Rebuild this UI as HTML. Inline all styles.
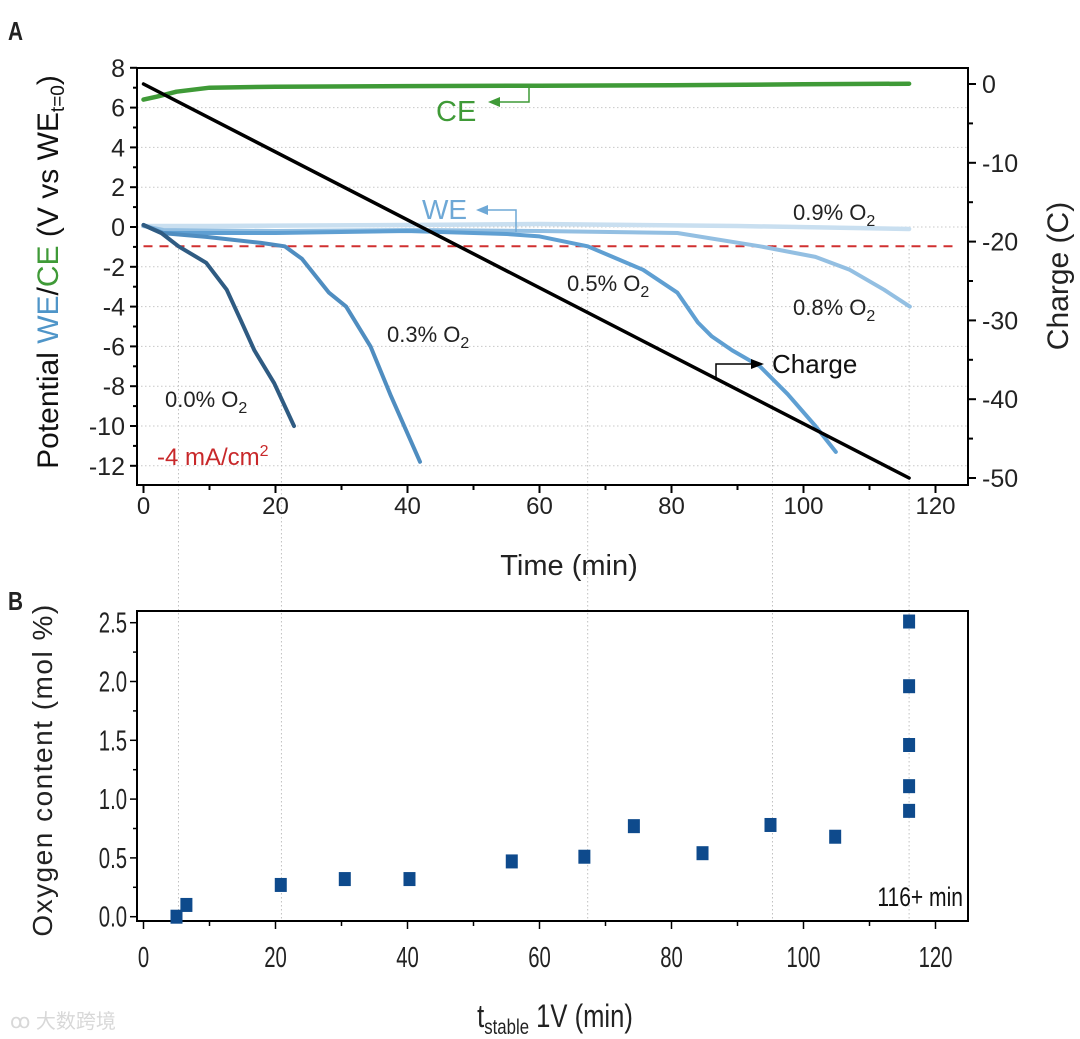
<!DOCTYPE html>
<html><head><meta charset="utf-8">
<style>
body{margin:0;background:#fff;}
svg{display:block;font-family:"Liberation Sans",sans-serif;}
</style></head>
<body>
<svg id="fig" width="1080" height="1039" viewBox="0 0 1080 1039" xmlns="http://www.w3.org/2000/svg"></svg>
<script>
// ---- Panel A data ----
const timeTicks = [0,20,40,60,80,100,120];
const potTicks = [8,6,4,2,0,-2,-4,-6,-8,-10,-12];
const chargeTicks = [0,-10,-20,-30,-40,-50];
const ceT = [0,2,5,10,20,40,60,80,100,116];
const ceV = [6.4,6.55,6.8,7.0,7.05,7.08,7.1,7.12,7.17,7.2];
const chargeT = [0,116];
const chargeC = [0,-50];
const we00T = [0,2.7,5.3,9.5,12.6,14.7,16.8,19.8,22.8];
const we00V = [0.1,-0.3,-0.97,-1.8,-3.15,-4.66,-6.2,-7.85,-10.0];
const we03T = [0,2.7,9.5,17.8,21.4,24,28.1,30.7,34.4,37.5,41.9];
const we03V = [0.1,-0.3,-0.5,-0.8,-0.97,-1.6,-3.3,-4.0,-6.0,-8.5,-11.8];
const we05T = [0,3,20,40,55,60,67.3,75.7,80.9,84,86.1,89.2,93.4,97.6,101.8,104.9];
const we05V = [0.1,-0.3,-0.3,-0.2,-0.35,-0.47,-0.97,-2.15,-3.3,-4.8,-5.5,-6.2,-7.0,-8.4,-10.0,-11.3];
const we08T = [0,3,20,40,60,80.9,93.4,101.8,107,112.2,116.1];
const we08V = [0.05,-0.15,-0.2,-0.15,-0.2,-0.3,-0.97,-1.5,-2.15,-3.15,-4.0];
const we09T = [0,10,40,60,90,116];
const we09V = [0.05,0.05,0.1,0.15,0.05,-0.1];
const cutoffV = -0.97;
const markerTimes = [5.3,20.9,67.3,95.3,116];
// ---- Panel B data ----
const bT = [5,6.5,20.8,30.5,40.3,55.8,66.8,74.3,84.7,95,104.8,116,116,116,116,116];
const bO = [0.0,0.1,0.27,0.32,0.32,0.47,0.51,0.77,0.54,0.78,0.68,0.9,1.11,1.46,1.96,2.51];
const oTicks = [0.0,0.5,1.0,1.5,2.0,2.5];
const bTimeTicks = [0,20,40,60,80,100,120];

const NS="http://www.w3.org/2000/svg";
const svg=document.getElementById('fig');
function el(tag,attrs,parent){const e=document.createElementNS(NS,tag);for(const k in attrs)e.setAttribute(k,attrs[k]);(parent||svg).appendChild(e);return e;}
const xT = t => 143.5 + t*6.6;
const yP = v => 227 - v*19.9;
const yC = c => 84 - c*7.88;
const yO = o => 916.7 - o*117.6;
const L=137,R=968,AT=68,AB=485,BT=611,BB=921;

potTicks.forEach(v=>{ if(v===8) return;
  const g=el('line',{x1:L,x2:R,y1:yP(v),y2:yP(v),stroke:'#c8c8c8','stroke-width':1,'stroke-dasharray':'1.5,2.5'});
  
  
});
markerTimes.forEach(t=>{
  const g=el('line',{x1:xT(t),x2:xT(t),y1:245,y2:BB,stroke:'#c0c0c0','stroke-width':1,'stroke-dasharray':'1.5,2.5'});
  
  
});
const cut=el('line',{x1:xT(0),x2:958,y1:yP(cutoffV),y2:yP(cutoffV),stroke:'#d03030','stroke-width':2,'stroke-dasharray':'9,7'});



function poly(ts,vs,ymap,color,w,name){
  const pts=ts.map((t,i)=>xT(t).toFixed(1)+','+ymap(vs[i]).toFixed(1)).join(' ');
  const p=el('polyline',{points:pts,fill:'none',stroke:color,'stroke-width':w,'stroke-linejoin':'round','stroke-linecap':'round'});
  
  
}
poly(we09T,we09V,yP,'#c9dff0',4.5,'we-0.9-line');
poly(we08T,we08V,yP,'#93bfe2',4,'we-0.8-line');
poly(we05T,we05V,yP,'#5f9fd2',4,'we-0.5-line');
poly(we03T,we03V,yP,'#4f8dc0',4,'we-0.3-line');
poly(we00T,we00V,yP,'#2f5b82',4,'we-0.0-line');
poly(ceT,ceV,yP,'#3f9a37',4.5,'ce-line');
poly(chargeT,chargeC,yC,'#000',3.5,'charge-line');

const boxA=el('rect',{x:L,y:AT,width:R-L,height:AB-AT,fill:'none',stroke:'#000','stroke-width':2});


timeTicks.forEach(t=>{
  el('line',{x1:xT(t),x2:xT(t),y1:AB,y2:AB+8,stroke:'#000','stroke-width':2});
  if(t<120) el('line',{x1:xT(t+10),x2:xT(t+10),y1:AB,y2:AB+5,stroke:'#000','stroke-width':2});
  const tx=el('text',{x:xT(t),y:AB+29,'font-size':24,'text-anchor':'middle',fill:'#222'});
  tx.textContent=t;
  
  
});
potTicks.forEach(v=>{
  el('line',{x1:L-7,x2:L,y1:yP(v),y2:yP(v),stroke:'#000','stroke-width':2});
  if(v>-12) el('line',{x1:L-4,x2:L,y1:yP(v-1),y2:yP(v-1),stroke:'#000','stroke-width':2});
  const tx=el('text',{x:L-12,y:yP(v)+9,'font-size':25,'text-anchor':'end',fill:'#222'});
  tx.textContent=v;
  
  
});
chargeTicks.forEach(c=>{
  el('line',{x1:R,x2:R+8,y1:yC(c),y2:yC(c),stroke:'#000','stroke-width':2});
  if(c>-50) el('line',{x1:R,x2:R+5,y1:yC(c-5),y2:yC(c-5),stroke:'#000','stroke-width':2});
  const tx=el('text',{x:R+14,y:yC(c)+9,'font-size':25,fill:'#222'});
  tx.textContent=c;
  
  
});

const boxB=el('rect',{x:L,y:BT,width:R-L,height:BB-BT,fill:'none',stroke:'#000','stroke-width':2});


bTimeTicks.forEach(t=>{
  el('line',{x1:xT(t),x2:xT(t),y1:BB,y2:BB+8,stroke:'#000','stroke-width':1.5});
  if(t<120) el('line',{x1:xT(t+10),x2:xT(t+10),y1:BB,y2:BB+5,stroke:'#000','stroke-width':1.5});
  const tx=el('text',{x:xT(t),y:BB+46,'font-size':29,'text-anchor':'middle',fill:'#222',transform:`translate(${xT(t)},0) scale(0.7,1) translate(${-xT(t)},0)`});
  tx.textContent=t;
  
  
});
oTicks.forEach(o=>{
  el('line',{x1:L-7,x2:L,y1:yO(o),y2:yO(o),stroke:'#000','stroke-width':1.5});
  if(o<2.5) el('line',{x1:L-4,x2:L,y1:yO(o+0.25),y2:yO(o+0.25),stroke:'#000','stroke-width':1.5});
  const tx=el('text',{x:L-10,y:yO(o)+10,'font-size':29,'text-anchor':'end',fill:'#222',transform:`translate(${L-10},0) scale(0.7,1) translate(${-(L-10)},0)`});
  tx.textContent=o.toFixed(1);
  
  
});
bT.forEach((t,i)=>{
  const r=el('rect',{x:xT(t)-6,y:yO(bO[i])-7,width:12,height:14,fill:'#0e4a8c'});
  
  
});
</script>
<svg width="1080" height="1039" style="position:absolute;left:0;top:0" xmlns="http://www.w3.org/2000/svg">
 <g font-family="Liberation Sans, sans-serif">
  <text x="8" y="40" font-size="26" font-weight="bold" fill="#222" transform="translate(8,0) scale(0.8,1) translate(-8,0)">A</text>
  <text x="8" y="610" font-size="26" font-weight="bold" fill="#222" transform="translate(8,0) scale(0.8,1) translate(-8,0)">B</text>
  <text transform="translate(58,272) rotate(-90)" font-size="30" text-anchor="middle" fill="#111">Potential <tspan fill="#4f95c8">WE</tspan>/<tspan fill="#3f9a37">CE</tspan> (V vs WE<tspan font-size="19" dy="6">t=0</tspan><tspan dy="-6">)</tspan></text>
  <text transform="translate(1068,276) rotate(-90)" font-size="30" text-anchor="middle" fill="#222">Charge (C)</text>
  <text x="569" y="575" font-size="29" text-anchor="middle" fill="#222">Time (min)</text>
  <text x="436" y="121" font-size="29" fill="#3f9a37">CE</text>
  <path d="M529,88 V102 H492" fill="none" stroke="#3f9a37" stroke-width="1.5"/>
  <path d="M488,102 l12,-5 v10 z" fill="#3f9a37"/>
  <text x="422" y="219" font-size="28" fill="#6ea8d6">WE</text>
  <path d="M516,232 V210 H480" fill="none" stroke="#6ea8d6" stroke-width="1.5"/>
  <path d="M476,210 l12,-5 v10 z" fill="#6ea8d6"/>
  <text x="772" y="373" font-size="26" fill="#111">Charge</text>
  <path d="M716,378 V364 H752" fill="none" stroke="#000" stroke-width="1.5"/>
  <path d="M764,364 l-13,-5 v10 z" fill="#000"/>
  <text x="793" y="220" font-size="22" fill="#222">0.9% O<tspan font-size="16" dy="6">2</tspan></text>
  <text x="567" y="291" font-size="22" fill="#222">0.5% O<tspan font-size="16" dy="6">2</tspan></text>
  <text x="793" y="315" font-size="22" fill="#222">0.8% O<tspan font-size="16" dy="6">2</tspan></text>
  <text x="387" y="342" font-size="22" fill="#222">0.3% O<tspan font-size="16" dy="6">2</tspan></text>
  <text x="165" y="407" font-size="22" fill="#222">0.0% O<tspan font-size="16" dy="6">2</tspan></text>
  <text x="157" y="465" font-size="24" fill="#c8282a">-4 mA/cm<tspan font-size="16" dy="-9">2</tspan></text>
  <text transform="translate(52,770) rotate(-90)" font-size="28" text-anchor="middle" fill="#222" letter-spacing="1.5">Oxygen content (mol %)</text>
  <text x="555" y="1027" font-size="32" text-anchor="middle" fill="#222" transform="translate(555,0) scale(0.8,1) translate(-555,0)">t<tspan font-size="21" dy="7">stable</tspan><tspan dy="-7"> 1V (min)</tspan></text>
  <text x="963" y="906" font-size="27" text-anchor="end" fill="#111" transform="translate(963,0) scale(0.78,1) translate(-963,0)">116+ min</text>
  <text x="10" y="1028" font-size="20" fill="#d8d8d8" font-family="Liberation Sans, Noto Sans CJK SC, sans-serif">ꝏ 大数跨境</text>
 </g>
</svg>
</body></html>
